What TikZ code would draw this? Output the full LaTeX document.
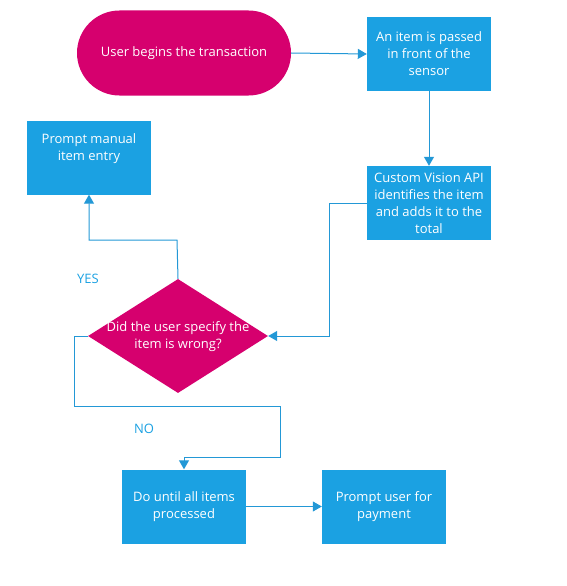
\documentclass[tikz,border=0pt]{standalone}
\usepackage{fontspec}
\setmainfont{Open Sans}
\usetikzlibrary{arrows.meta,shapes.geometric,shapes.misc}
\definecolor{mag}{HTML}{D6006E}
\definecolor{boxblue}{HTML}{1BA1E2}
\definecolor{lineblue}{HTML}{2398D6}
\tikzset{
  bx/.style={draw=none,fill=boxblue,minimum width=124pt,minimum height=74pt,inner sep=1pt,
    text=white,align=center,font=\fontsize{13}{17}\selectfont},
  txt/.style={text=white,align=center,font=\fontsize{13}{17}\selectfont,inner sep=0pt},
  conn/.style={draw=lineblue,line width=1pt,-{Triangle[length=9pt,width=10pt]}},
  lbl/.style={text=boxblue,font=\fontsize{13}{15}\selectfont,inner sep=0pt}
}
\begin{document}
\begin{tikzpicture}[x=1pt,y=-1pt]
\useasboundingbox (0,0) rectangle (566,586);
\node[fill=mag,rounded rectangle,minimum width=214pt,minimum height=85pt,inner sep=0pt,
  text=white,font=\fontsize{13}{17}\selectfont] (start) at (184,53) {User begins the transaction};
\node[bx] (pass) at (429,54) {An item is passed\\in front of the\\sensor};
\node[bx] (cv) at (429,203) {Custom Vision API\\identifies the item\\and adds it to the\\total};
\node[bx] (pm) at (89,157.5) {};
\node[txt] (pmt) at (89,149) {Prompt manual\\item entry};
\node[diamond,fill=mag,minimum width=180pt,minimum height=114pt,aspect=1.58,inner sep=0pt] (dec) at (178,336) {};
\node[txt] (dect) at (178,337) {Did the user specify the\\item is wrong?};
\node[bx] (loop) at (184,506.5) {Do until all items\\processed};
\node[bx] (pay) at (384,506.5) {Prompt user for\\payment};
\node[lbl] (yes) at (88,279) {YES};
\node[lbl] (no) at (144,429) {NO};
\coordinate (c1) at (329,203);
\coordinate (c2) at (329,336);
\draw[conn] (start.east) -- (pass.west);
\draw[conn] (pass.south) -- (cv.north);
\draw[conn] (cv.west) -- (c1) -- (c2) -- (dec.east);
\draw[conn] (dec.north) -- (177,240) -| (pm.south);
\draw[conn] (dec.west) -- (74,336) -- (74,406) -- (280,406) -- (280,457) -| (loop.north);
\draw[conn] (loop.east) -- (pay.west);
\end{tikzpicture}
\end{document}
